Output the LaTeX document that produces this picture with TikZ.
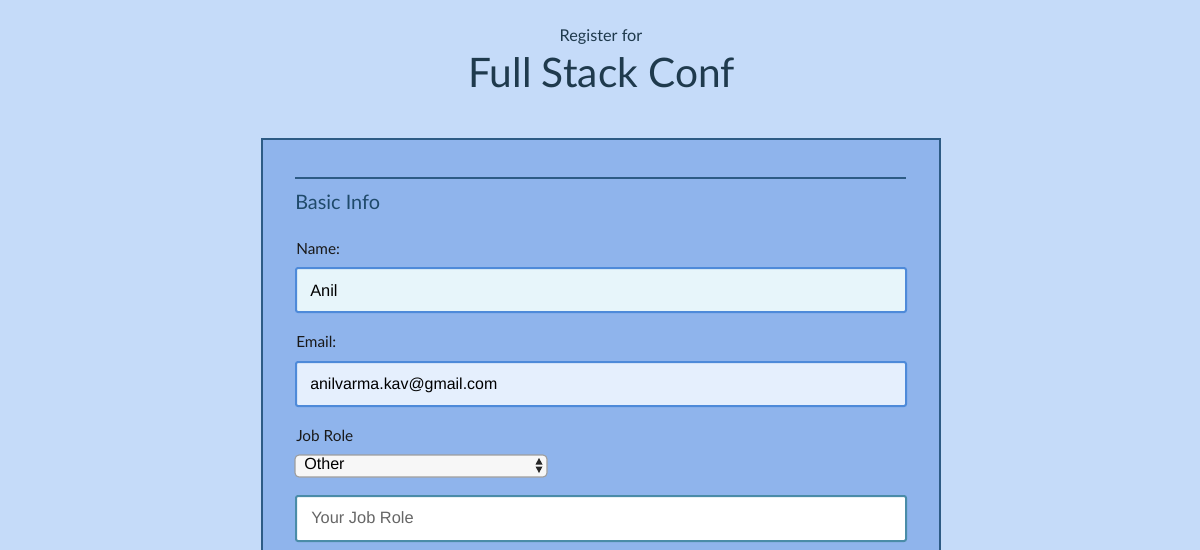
\documentclass[tikz,border=0pt]{standalone}
\usepackage{fontspec}
\setmainfont{Lato}
\newfontfamily\fieldfont{Liberation Sans}
\usetikzlibrary{positioning}

\definecolor{pagebg}{HTML}{C5DBF9}
\definecolor{panelbg}{HTML}{8FB4EC}
\definecolor{panelline}{HTML}{2D5B85}
\definecolor{titlecol}{HTML}{1F3A4D}
\definecolor{headcol}{HTML}{1F4A6B}
\definecolor{namebg}{HTML}{E7F5FA}
\definecolor{mailbg}{HTML}{E5EFFD}
\definecolor{fieldline}{HTML}{4E8AD9}
\definecolor{roleline}{HTML}{4A8CA8}

\begin{document}
\begin{tikzpicture}[x=0.75pt, y=-0.75pt,
  txt/.style={inner sep=0pt, anchor=base west},
  lbl/.style={txt, font=\fontsize{11.5}{13}\selectfont, text=black!90},
  field/.style={draw=fieldline, line width=1.5pt, rounded corners=1.5pt},
  entry/.style={txt, font=\fieldfont\fontsize{12.3}{14}\selectfont}]
\useasboundingbox[fill=pagebg] (0,0) rectangle (1200,550);
% Titel
\node[inner sep=0pt, anchor=base, text=titlecol, font=\fontsize{12.2}{14}\selectfont] (kicker) at (601,41) {Register for};
\node[inner sep=0pt, anchor=base, text=titlecol, font=\fontsize{30.5}{34}\selectfont] (title) at (601.5,87) {Full Stack Conf};
% Formular
\fill[panelbg] (262,139) rectangle (940,552);
\draw[panelline, line width=1.5pt] (262,552) -- (262,139) -- (940,139) -- (940,552);
\coordinate (ruleL) at (295,178);
\coordinate (ruleR) at (906,178);
\draw[panelline, line width=1.3pt] (ruleL) -- (ruleR);
\node[txt, text=headcol, font=\fontsize{14.9}{17}\selectfont] (basic) at (295,209) {Basic Info};
% Name
\node[lbl] (namelbl) at (296,254) {Name:};
\draw[field, fill=namebg] (296,268) rectangle (906,312);
\node[entry] (nameval) at (310,296) {Anil};
% Email
\node[lbl] (maillbl) at (296,347) {Email:};
\draw[field, fill=mailbg] (296,362) rectangle (906,406);
\node[entry, font=\fieldfont\fontsize{11.95}{14}\selectfont] (mailval) at (310,389) {anilvarma.kav@gmail.com};
% Job Role
\node[lbl] (rolelbl) at (296,441) {Job Role};
\draw[draw=black!38, fill=black!3, line width=0.8pt, rounded corners=3pt] (295,455) rectangle (547,477);
\node[entry, font=\fieldfont\fontsize{12.1}{14}\selectfont] (roleval) at (304,469) {Other};
\fill[black!85] (535.5,464.5) -- (542.5,464.5) -- (539,458) -- cycle;
\fill[black!85] (535.5,466.5) -- (542.5,466.5) -- (539,473) -- cycle;
\draw[draw=roleline, line width=1.5pt, fill=white, rounded corners=1.5pt] (296,496) rectangle (906,541);
\node[entry, text=black!60] (rolehint) at (311,523) {Your Job Role};
\end{tikzpicture}
\end{document}
